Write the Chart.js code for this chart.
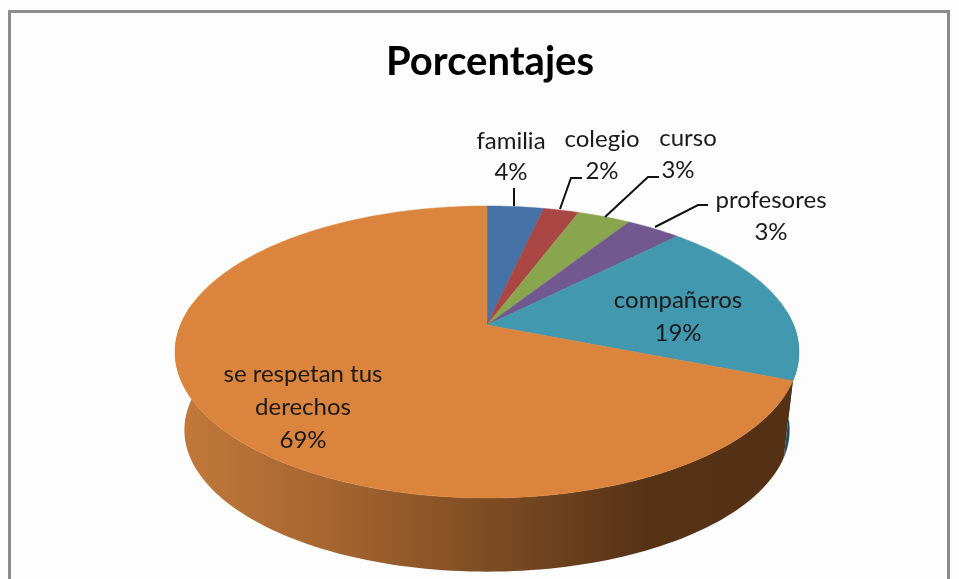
<!DOCTYPE html>
<html lang="es">
<head>
<meta charset="UTF-8">
<title>Porcentajes</title>
<script src="https://cdn.jsdelivr.net/npm/chart.js"></script>
<style>
    html, body { margin: 0; padding: 0; background: #fdfdfd; overflow: hidden; }
    canvas { display: block; }
</style>
</head>
<body>
<canvas id="pie" width="959" height="579"></canvas>
<script>
const categories = ['familia', 'colegio', 'curso', 'profesores', 'compañeros', 'se respetan tus derechos'];
const values = [3.5, 2.2, 3.3, 3.4, 18.6, 69];
const colors = ['#4572a7', '#aa4643', '#89a54e', '#71588f', '#4198af', '#db843d'];
const sideColors = { 4: '#1c4f60' };

// fake 3D view: apex, radius, perspective and wall height, measured on the picture
const view = { cx: 487, cy: 325, r: 306.6, a: 80.9, c: -0.185, midY: 352, depth: 78, shrink: 0.03 };

// label text placement, one entry per category
const labelLines = [
    [['familia', 511, 141], [null, 511, 172]],
    [['colegio', 602, 139], [null, 602, 171]],
    [['curso', 688, 138], [null, 678, 170]],
    [['profesores', 771, 200], [null, 771, 232]],
    [['compañeros', 678, 300], [null, 678, 333]],
    [['se respetan tus', 303, 374], ['derechos', 303, 407], [null, 303, 440]]
];
const leaders = [
    [[514, 188], [514, 206]],
    [[560, 209], [571, 178], [582, 178]],
    [[605, 217], [648, 177], [659, 177]],
    [[655, 227], [698, 205], [708, 205]]
];

// angle (canvas radians) + height 0..1 -> screen point
function project(angle, h) {
    const u = Math.cos(angle), v = Math.sin(angle);
    const den = view.c * v + 1;
    const x0 = view.cx + view.r * u / den;
    const y0 = (view.a * v + view.cy) / den;
    const s = 1 - view.shrink * h;
    return [view.cx + (x0 - view.cx) * s, view.midY + (y0 - view.midY) * s + view.depth * h];
}

function wall(ctx, from, to, fill) {
    const steps = 120;
    ctx.beginPath();
    for (let i = 0; i <= steps; i++) {
        const p = project(from + (to - from) * i / steps, 0);
        i ? ctx.lineTo(p[0], p[1]) : ctx.moveTo(p[0], p[1]);
    }
    for (let i = steps; i >= 0; i--) {
        const p = project(from + (to - from) * i / steps, 1);
        ctx.lineTo(p[0], p[1]);
    }
    ctx.closePath();
    ctx.fillStyle = fill;
    ctx.fill();
}

const pie3d = {
    id: 'pie3d',
    beforeDraw(chart) {
        const ctx = chart.ctx;
        ctx.save();
        ctx.strokeStyle = '#8c8c8c';
        ctx.lineWidth = 3;
        ctx.beginPath();
        ctx.moveTo(9.5, 600);
        ctx.lineTo(9.5, 11.5);
        ctx.lineTo(948.5, 11.5);
        ctx.lineTo(948.5, 600);
        ctx.stroke();
        ctx.restore();
    },
    // the library has worked out the slice angles, they are drawn here in perspective
    beforeDatasetsDraw(chart) {
        const ctx = chart.ctx;
        const arcs = chart.getDatasetMeta(0).data;
        ctx.save();

        // side walls, only the front part shows
        const blue = arcs[4], orange = arcs[5];
        wall(ctx, Math.max(blue.startAngle, -0.1), blue.endAngle, sideColors[4]);
        const grad = ctx.createLinearGradient(176, 0, 800, 0);
        grad.addColorStop(0, '#c27a3a');
        grad.addColorStop(0.25, '#a5652f');
        grad.addColorStop(0.5, '#7e4c24');
        grad.addColorStop(0.75, '#573316');
        grad.addColorStop(1, '#543014');
        wall(ctx, orange.startAngle, Math.PI * 1.05, grad);

        // top face
        arcs.forEach((arc, i) => {
            const steps = Math.max(4, Math.ceil((arc.endAngle - arc.startAngle) * 60));
            ctx.beginPath();
            ctx.moveTo(view.cx, view.cy);
            for (let k = 0; k <= steps; k++) {
                const p = project(arc.startAngle + (arc.endAngle - arc.startAngle) * k / steps, 0);
                ctx.lineTo(p[0], p[1]);
            }
            ctx.closePath();
            ctx.fillStyle = colors[i];
            ctx.fill();
            ctx.strokeStyle = colors[i];
            ctx.lineWidth = 0.5;
            ctx.stroke();
        });
        ctx.restore();
        return false;
    },
    afterDraw(chart) {
        const ctx = chart.ctx;
        ctx.save();
        ctx.strokeStyle = '#111';
        ctx.lineWidth = 2;
        leaders.forEach(line => {
            ctx.beginPath();
            line.forEach((p, i) => i ? ctx.lineTo(p[0], p[1]) : ctx.moveTo(p[0], p[1]));
            ctx.stroke();
        });
        ctx.fillStyle = '#1a1a1a';
        ctx.font = '24px Lato';
        ctx.textAlign = 'center';
        ctx.textBaseline = 'middle';
        labelLines.forEach((lines, i) => {
            lines.forEach(l => {
                ctx.fillText(l[0] === null ? Math.round(values[i]) + '%' : l[0], l[1], l[2]);
            });
        });
        ctx.restore();
    }
};

new Chart(document.getElementById('pie'), {
    type: 'pie',
    data: {
        labels: categories,
        datasets: [{ data: values, backgroundColor: colors, borderWidth: 0 }]
    },
    options: {
        responsive: false,
        animation: false,
        layout: { padding: { left: 21 } },
        plugins: {
            legend: { display: false },
            tooltip: { enabled: false },
            title: {
                display: true,
                text: 'Porcentajes',
                color: '#000',
                font: { family: 'Lato', size: 40, weight: 'bold' },
                padding: { top: 38, bottom: 10 }
            }
        }
    },
    plugins: [pie3d]
});
</script>
</body>
</html>
